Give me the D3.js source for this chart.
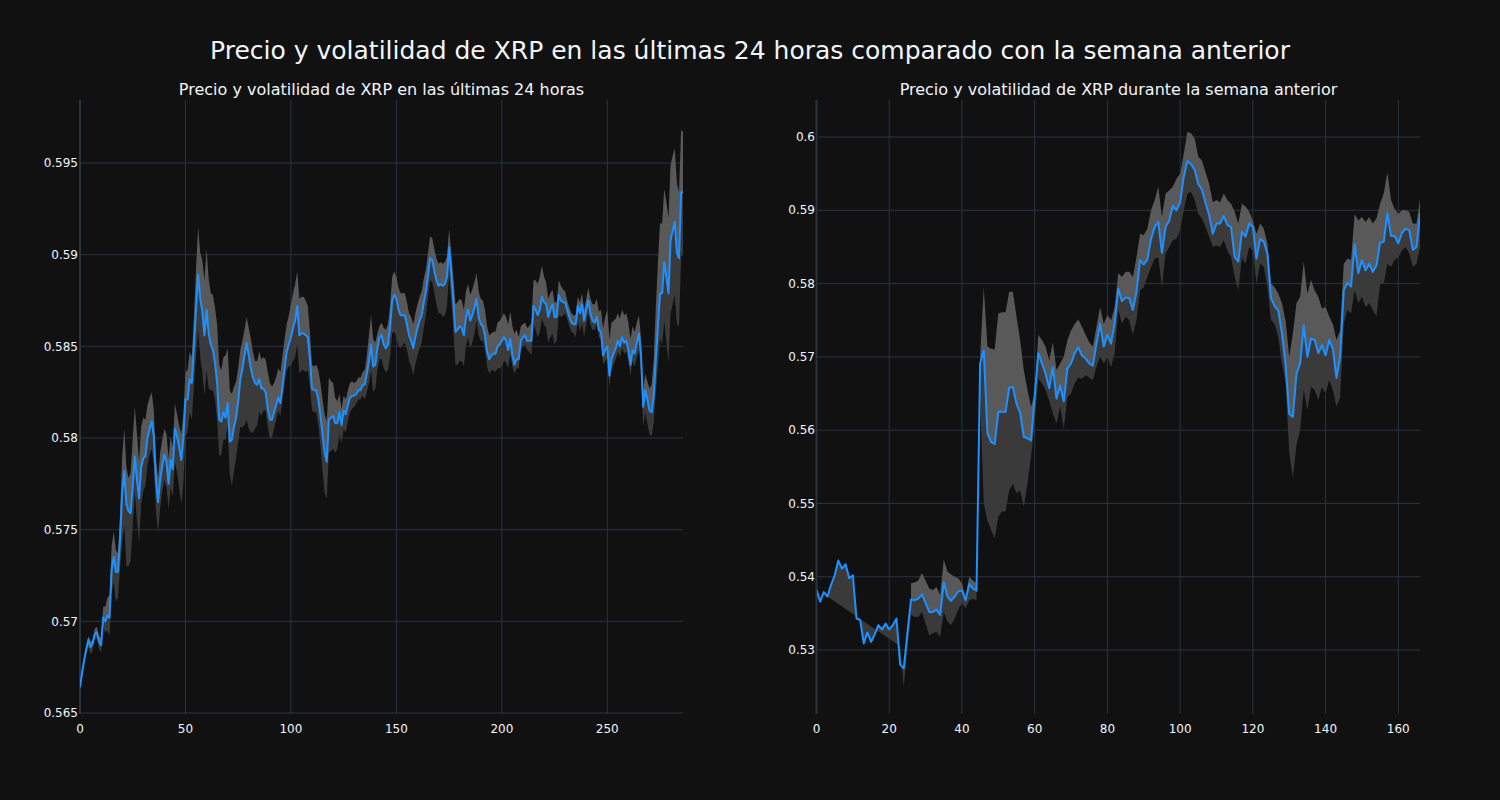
<!DOCTYPE html>
<html><head><meta charset="utf-8">
<script src="https://cdn.jsdelivr.net/npm/d3@7"></script>
<style>html,body{margin:0;padding:0;background:#111111;} svg{display:block;}</style>
</head><body><svg id="chart" width="1500" height="800"></svg>
<script>
// ---------- DATA ----------
const mainTitle = "Precio y volatilidad de XRP en las últimas 24 horas comparado con la semana anterior";
const panelTitles = ["Precio y volatilidad de XRP en las últimas 24 horas", "Precio y volatilidad de XRP durante la semana anterior"];

// last 24h price (index 0..286)
const price24h = [0.5664,0.5672,0.5679,0.5685,0.5690,0.5686,0.5688,0.5693,0.5694,0.5689,
0.5687,0.5702,0.5700,0.5703,0.5702,0.5728,0.5735,0.5727,0.5727,0.5745,
0.5770,0.5782,0.5764,0.5760,0.5759,0.5774,0.5790,0.5777,0.5767,0.5784,
0.5789,0.5790,0.5800,0.5805,0.5809,0.5801,0.5777,0.5765,0.5777,0.5785,
0.5791,0.5787,0.5775,0.5788,0.5783,0.5805,0.5801,0.5795,0.5788,0.5800,
0.5821,0.5821,0.5832,0.5830,0.5850,0.5870,0.5889,0.5876,0.5869,0.5856,
0.5870,0.5857,0.5851,0.5848,0.5841,0.5830,0.5810,0.5809,0.5814,0.5811,
0.5819,0.5798,0.5799,0.5806,0.5811,0.5820,0.5832,0.5838,0.5845,0.5852,
0.5845,0.5838,0.5833,0.5830,0.5829,0.5832,0.5827,0.5827,0.5825,0.5816,
0.5810,0.5810,0.5814,0.5818,0.5822,0.5819,0.5828,0.5838,0.5847,0.5851,
0.5855,0.5860,0.5864,0.5872,0.5856,0.5857,0.5857,0.5856,0.5855,0.5843,
0.5827,0.5826,0.5826,0.5821,0.5812,0.5802,0.5792,0.5787,0.5810,0.5811,
0.5812,0.5808,0.5808,0.5814,0.5807,0.5815,0.5813,0.5818,0.5822,0.5823,
0.5823,0.5824,0.5826,0.5826,0.5829,0.5829,0.5835,0.5842,0.5851,0.5839,
0.5840,0.5849,0.5855,0.5856,0.5851,0.5849,0.5851,0.5860,0.5875,0.5878,
0.5876,0.5870,0.5867,0.5867,0.5867,0.5862,0.5856,0.5853,0.5849,0.5855,
0.5860,0.5864,0.5867,0.5874,0.5880,0.5889,0.5898,0.5897,0.5891,0.5886,
0.5883,0.5884,0.5883,0.5884,0.5888,0.5904,0.5890,0.5875,0.5858,0.5859,
0.5861,0.5860,0.5856,0.5866,0.5870,0.5864,0.5867,0.5871,0.5876,0.5866,
0.5862,0.5861,0.5856,0.5847,0.5843,0.5845,0.5846,0.5846,0.5850,0.5851,
0.5853,0.5855,0.5853,0.5848,0.5854,0.5845,0.5840,0.5843,0.5843,0.5853,
0.5855,0.5856,0.5853,0.5853,0.5853,0.5872,0.5870,0.5867,0.5870,0.5877,
0.5874,0.5873,0.5866,0.5870,0.5873,0.5866,0.5866,0.5878,0.5875,0.5874,
0.5874,0.5870,0.5866,0.5863,0.5862,0.5862,0.5872,0.5868,0.5873,0.5864,
0.5870,0.5875,0.5868,0.5864,0.5863,0.5866,0.5859,0.5858,0.5845,0.5848,
0.5850,0.5834,0.5843,0.5846,0.5849,0.5853,0.5850,0.5855,0.5852,0.5853,
0.5848,0.5840,0.5848,0.5846,0.5852,0.5857,0.5845,0.5817,0.5826,0.5821,
0.5815,0.5814,0.5823,0.5843,0.5861,0.5879,0.5879,0.5896,0.5888,0.5879,
0.5908,0.5913,0.5918,0.5901,0.5898,0.5934,0.5934];

// band distance above / below the 24h price, in units of 0.0001
const bandUp24h = [1,1,2,2,2,3,2,3,3,3, 4,6,8,10,12, 13,14,12,10,14, 20,23,20,18,22, 26,27,25,20,22,
22,20,18,17,16, 14,12,13,15,14, 14,15,14,13,12, 14,12,12,14,13, 15,16,15,14,16, 22,26,25,28,30,
33,30,28,30,30, 32,30,28,30,34, 30,28,25,22,20, 18,16,15,14,14, 15,16,14,12,13, 15,16,17,18,20,
20,18,16,15,16, 17,17,16,15,16, 18,19,20,19,20, 20,20,19,17,15, 13,13,14,16,18, 19,21,22,23,20,
18,14,12,10,9, 8,8,8,8,8, 7,7,7,7,7, 8,10,14,16,15, 12,8,6,7,9, 10,11,12,13,13,
12,12,12,12,12, 12,12,13,13,13, 13,13,13,13,12, 12,12,12,12,12, 12,12,12,12,11, 10,11,13,15,15,
15,15,14,14,14, 14,14,14,14,14, 14,14,14,14,13, 12,12,12,13,13, 13,13,13,14,15, 16,17,16,12,8,
7,7,7,8,10, 14,16,17,18,17, 14,12,10,9,8, 8,8,8,8,7, 6,5,5,5,5, 5,5,6,6,6,
6,7,8,9,10, 10,10,12,15,18, 20,20,20,18,16, 15,15,15,15,15, 15,14,13,12,11, 10,9,9,9,10,
12,15,20,28,35, 38,38,40,41,41, 41,41,40,38,36, 34,33];
const bandDown24h = [2,3,3,3,4,4,4,3,3,4, 4,5,6,8,10, 12,14,16,14,16, 26,30,34,30,26, 22,20,22,24,20,
18,16,15,14,15, 16,17,17,15,14, 14,14,14,15,15, 18,20,22,24,25, 20,18,18,20,22, 26,30,32,33,33,
33,30,25,22,20, 20,20,18,15,12, 12,18,25,24,22, 22,26,32,38,42, 40,35,30,25,22, 18,15,12,10,10,
10,10,9,8,7, 7,7,8,10,12, 15,18,20,21,21, 20,20,20,18,15, 12,12,12,14,16, 20,22,20,18,18,
18,16,14,12,10, 10,10,9,8,7, 6,5,5,5,6, 8,10,12,14,14, 13,12,12,13,13, 13,14,16,18,20,
21,20,18,16,15, 14,14,14,15,15, 15,15,15,14,13, 12,12,12,12,13, 15,16,17,17,16, 15,15,16,18,19,
19,18,17,16,15, 15,15,14,12,10, 9,8,8,8,8, 8,9,10,12,13, 14,13,12,10,8, 6,5,5,5,5,
5,5,5,6,8, 10,11,12,12,12, 12,13,14,15,16, 15,13,11,9,7, 6,5,5,5,5, 7,8,10,10,9,
8,7,6,5,4, 4,4,4,5,6, 6,6,6,6,6, 6,6,6,6,6, 6,6,6,7,8, 9,10,11,12,13,
13,13,15,18,22, 25,28,32,36,38, 40,40,40,39,37, 35,34];

// previous week price (index 0..166)
const priceWeek = [0.5382,0.5366,0.5379,0.5373,0.5389,0.5402,0.5422,0.5411,0.5417,0.5398,
0.5402,0.5343,0.5341,0.5309,0.5324,0.5311,0.5321,0.5334,0.5328,0.5336,
0.5328,0.5334,0.5343,0.5280,0.5275,0.5323,0.5369,0.5368,0.5370,0.5376,
0.5364,0.5352,0.5352,0.5355,0.5348,0.5392,0.5373,0.5367,0.5373,0.5380,
0.5381,0.5368,0.5390,0.5384,0.5381,0.5691,0.5709,0.5596,0.5584,0.5581,
0.5625,0.5625,0.5625,0.5658,0.5659,0.5636,0.5624,0.5591,0.5589,0.5586,
0.5646,0.5705,0.5691,0.5677,0.5657,0.5686,0.5643,0.5661,0.5639,0.5684,
0.5691,0.5705,0.5713,0.5702,0.5698,0.5691,0.5688,0.5718,0.5745,0.5714,
0.5730,0.5718,0.5746,0.5793,0.5776,0.5781,0.5780,0.5764,0.5789,0.5832,
0.5826,0.5833,0.5861,0.5877,0.5884,0.5842,0.5877,0.5886,0.5906,0.5900,
0.5911,0.5946,0.5967,0.5963,0.5955,0.5936,0.5928,0.5910,0.5893,0.5868,
0.5882,0.5882,0.5892,0.5880,0.5877,0.5836,0.5830,0.5871,0.5864,0.5882,
0.5877,0.5834,0.5861,0.5857,0.5841,0.5780,0.5769,0.5763,0.5732,0.5690,
0.5622,0.5618,0.5677,0.5691,0.5743,0.5700,0.5725,0.5723,0.5705,0.5716,
0.5702,0.5723,0.5711,0.5671,0.5700,0.5791,0.5801,0.5796,0.5854,0.5814,
0.5832,0.5818,0.5827,0.5816,0.5825,0.5856,0.5857,0.5896,0.5865,0.5865,
0.5855,0.5869,0.5875,0.5873,0.5846,0.5850,0.5895];

const upperWeek = [null,null,null,null,null,null,null,null,null,null,
null,null,null,null,null,null,null,null,null,null,
null,null,null,null,null,null,0.5391,0.5392,0.5395,0.5405,
0.5395,0.5384,0.5382,0.5386,0.5375,0.5423,0.5407,0.5403,0.5400,0.5398,
0.5391,0.5372,0.5400,0.5395,0.5391,0.5700,0.5795,0.5714,0.5711,0.5710,
0.5759,0.5761,0.5761,0.5789,0.5789,0.5755,0.5723,0.5682,0.5655,0.5632,
0.5650,0.5730,0.5723,0.5714,0.5695,0.5720,0.5682,0.5691,0.5700,0.5723,
0.5736,0.5745,0.5751,0.5741,0.5730,0.5720,0.5714,0.5741,0.5768,0.5745,
0.5757,0.5750,0.5768,0.5814,0.5809,0.5816,0.5816,0.5809,0.5836,0.5868,
0.5866,0.5875,0.5900,0.5914,0.5932,0.5891,0.5923,0.5927,0.5932,0.5943,
0.5950,0.5977,0.6007,0.6005,0.5998,0.5973,0.5968,0.5952,0.5936,0.5911,
0.5914,0.5911,0.5923,0.5914,0.5909,0.5898,0.5882,0.5909,0.5905,0.5898,
0.5886,0.5868,0.5882,0.5875,0.5855,0.5800,0.5795,0.5786,0.5773,0.5750,
0.5700,0.5732,0.5773,0.5782,0.5830,0.5786,0.5805,0.5791,0.5782,0.5766,
0.5768,0.5755,0.5745,0.5723,0.5736,0.5827,0.5834,0.5832,0.5895,0.5886,
0.5891,0.5884,0.5891,0.5882,0.5889,0.5909,0.5923,0.5952,0.5914,0.5902,
0.5895,0.5900,0.5900,0.5898,0.5882,0.5882,0.5916];

const lowerWeek = [null,null,null,0.5373,null,null,null,null,null,null,
null,null,null,null,null,null,null,null,null,null,
null,null,null,0.5305,0.5250,0.5302,0.5348,0.5345,0.5345,0.5352,
0.5336,0.5320,0.5323,0.5325,0.5318,0.5352,0.5339,0.5334,0.5343,0.5355,
0.5364,0.5357,0.5368,0.5370,0.5368,0.5640,0.5500,0.5477,0.5464,0.5452,
0.5482,0.5489,0.5489,0.5518,0.5527,0.5514,0.5518,0.5495,0.5527,0.5564,
0.5610,0.5670,0.5664,0.5655,0.5640,0.5623,0.5609,0.5632,0.5602,0.5645,
0.5650,0.5664,0.5672,0.5670,0.5675,0.5672,0.5668,0.5686,0.5700,0.5691,
0.5700,0.5686,0.5705,0.5764,0.5745,0.5755,0.5750,0.5730,0.5750,0.5791,
0.5795,0.5809,0.5823,0.5834,0.5836,0.5795,0.5841,0.5850,0.5859,0.5861,
0.5873,0.5900,0.5923,0.5925,0.5914,0.5895,0.5889,0.5877,0.5864,0.5850,
0.5852,0.5850,0.5859,0.5845,0.5836,0.5809,0.5791,0.5836,0.5827,0.5850,
0.5845,0.5800,0.5827,0.5823,0.5795,0.5750,0.5745,0.5727,0.5691,0.5664,
0.5570,0.5535,0.5580,0.5600,0.5655,0.5627,0.5659,0.5655,0.5641,0.5659,
0.5650,0.5668,0.5655,0.5632,0.5645,0.5745,0.5764,0.5759,0.5791,0.5773,
0.5782,0.5768,0.5773,0.5764,0.5755,0.5800,0.5800,0.5827,0.5823,0.5832,
0.5836,0.5845,0.5850,0.5841,0.5823,0.5827,0.5850];

const xTicks24h = [0,50,100,150,200,250];
const yTicks24h = [0.565,0.57,0.575,0.58,0.585,0.59,0.595];
const xTicksWeek = [0,20,40,60,80,100,120,140,160];
const yTicksWeek = [0.53,0.54,0.55,0.56,0.57,0.58,0.59,0.6];

// ---------- DRAW ----------
const W = 1500, H = 800;
const FONT = '"DejaVu Sans", Verdana, sans-serif';
const TXT = '#f2f5fa', GRID = '#283442';
const svg = d3.select('#chart');
svg.append('rect').attr('width', W).attr('height', H).attr('fill', '#111111');

svg.append('text').attr('x', 750).attr('y', 59).attr('text-anchor', 'middle')
  .attr('font-family', FONT).attr('font-size', 25).attr('fill', TXT).text(mainTitle);

const upper24h = price24h.map((p, i) => p + bandUp24h[i] / 10000);
const lower24h = price24h.map((p, i) => p - bandDown24h[i] / 10000);

function drawPanel(id, cfg) {
  const {left, right, top, bottom, xDom, xRange, yDom, yRange, price, upper, lower, xTicks, yTicks, title} = cfg;
  const x = d3.scaleLinear().domain(xDom).range(xRange);
  const y = d3.scaleLinear().domain(yDom).range(yRange);
  const g = svg.append('g');

  g.append('text').attr('x', (left + right) / 2).attr('y', 95).attr('text-anchor', 'middle')
    .attr('font-family', FONT).attr('font-size', 16).attr('fill', TXT).text(title);

  g.selectAll('.gx').data(xTicks).join('line')
    .attr('x1', d => x(d)).attr('x2', d => x(d)).attr('y1', top).attr('y2', bottom)
    .attr('stroke', GRID).attr('stroke-width', d => d === 0 ? 2 : 1);
  g.selectAll('.gy').data(yTicks).join('line')
    .attr('x1', left).attr('x2', right).attr('y1', d => y(d)).attr('y2', d => y(d))
    .attr('stroke', GRID).attr('stroke-width', 1);

  g.selectAll('.tx').data(xTicks).join('text')
    .attr('x', d => x(d)).attr('y', bottom + 19).attr('text-anchor', 'middle')
    .attr('font-family', FONT).attr('font-size', 12).attr('fill', TXT).text(d => String(d));
  g.selectAll('.ty').data(yTicks).join('text')
    .attr('x', left - 2).attr('y', d => y(d)).attr('dy', '0.35em').attr('text-anchor', 'end')
    .attr('font-family', FONT).attr('font-size', 12).attr('fill', TXT).text(d => String(d));

  svg.append('clipPath').attr('id', id).append('rect')
    .attr('x', left).attr('y', top).attr('width', right - left).attr('height', bottom - top);
  const pg = g.append('g').attr('clip-path', `url(#${id})`);

  const line = d3.line().x(d => x(d[0])).y(d => y(d[1]));
  function bandPath(bound) {
    const idx = bound.map((v, i) => v == null ? -1 : i).filter(i => i >= 0);
    const s = idx[0], e = idx[idx.length - 1];
    const pts = [];
    for (let i = s; i <= e; i++) pts.push([i, price[i]]);
    for (let k = idx.length - 1; k >= 0; k--) pts.push([idx[k], bound[idx[k]]]);
    return line(pts) + 'Z';
  }
  pg.append('path').attr('d', bandPath(lower)).attr('fill', '#3a3a3a').attr('stroke', 'none');
  pg.append('path').attr('d', bandPath(upper)).attr('fill', '#595959').attr('stroke', 'none');
  pg.append('path').attr('d', line(price.map((p, i) => [i, p])))
    .attr('fill', 'none').attr('stroke', '#1e90ff').attr('stroke-width', 2).attr('stroke-linejoin', 'round');
}

drawPanel('clipL', {
  left: 80, right: 683, top: 100, bottom: 714,
  xDom: [0, 250], xRange: [80, 607.3], yDom: [0.565, 0.595], yRange: [713, 163],
  price: price24h, upper: upper24h, lower: lower24h,
  xTicks: xTicks24h, yTicks: yTicks24h, title: panelTitles[0]
});
drawPanel('clipR', {
  left: 817, right: 1420, top: 100, bottom: 714,
  xDom: [0, 160], xRange: [816.5, 1398.3], yDom: [0.53, 0.6], yRange: [650, 137],
  price: priceWeek, upper: upperWeek, lower: lowerWeek,
  xTicks: xTicksWeek, yTicks: yTicksWeek, title: panelTitles[1]
});
</script></body></html>
